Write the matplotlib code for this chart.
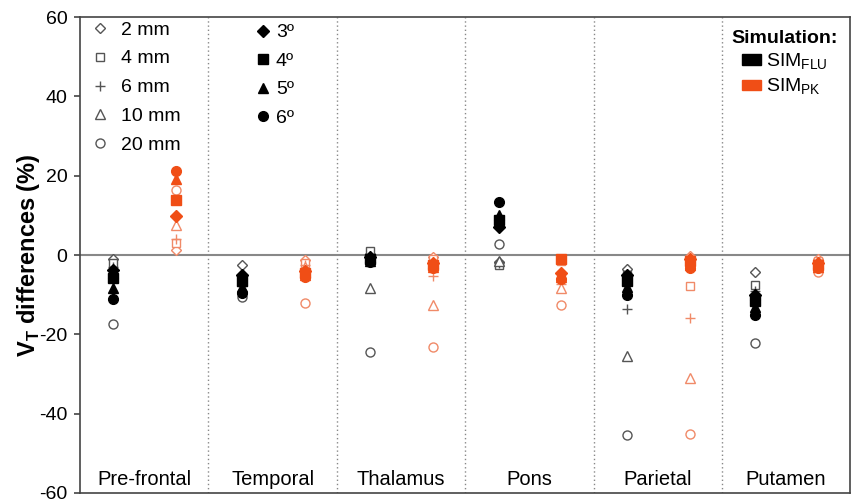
import matplotlib.pyplot as plt
from matplotlib.lines import Line2D
from matplotlib.patches import Patch

plt.rcParams.update({'font.family': 'Liberation Sans', 'font.size': 12,
                     'axes.unicode_minus': False,
                     'mathtext.fontset': 'custom',
                     'mathtext.rm': 'Liberation Sans',
                     'mathtext.bf': 'Liberation Sans:bold'})

regions = ['Pre-frontal', 'Temporal', 'Thalamus', 'Pons', 'Parietal', 'Putamen']

# V_T differences (%) per region, SIM_FLU
flu_2mm = [-1.0, -2.4, 0.2, -1.8, -3.6, -4.4]
flu_4mm = [-2.1, -6.0, 0.9, -2.4, -5.0, -7.6]
flu_6mm = [-3.0, -7.0, -0.5, -2.0, -13.6, -9.0]
flu_10mm = [-4.5, -6.5, -8.4, -1.5, -25.4, -10.0]
flu_20mm = [-17.5, -10.5, -24.4, 2.9, -45.5, -22.3]
flu_3deg = [-3.8, -5.0, -0.5, 7.0, -5.0, -10.0]
flu_4deg = [-5.8, -6.5, -1.0, 8.8, -6.5, -11.5]
flu_5deg = [-8.3, -8.0, -1.5, 10.0, -8.0, -13.0]
flu_6deg = [-11.0, -9.7, -1.8, 13.3, -10.0, -15.0]

# V_T differences (%) per region, SIM_PK
pk_2mm = [1.2, -1.3, -0.5, -1.0, -0.3, -1.0]
pk_4mm = [3.0, -2.0, -1.0, -1.5, -7.7, -1.5]
pk_6mm = [4.0, -2.5, -5.2, -7.2, -16.0, -2.0]
pk_10mm = [7.5, -3.0, -12.5, -8.4, -31.0, -2.5]
pk_20mm = [16.3, -12.0, -23.3, -12.5, -45.2, -4.2]
pk_3deg = [9.9, -4.0, -2.0, -4.5, -1.0, -2.0]
pk_4deg = [13.8, -4.5, -2.5, -1.0, -1.5, -2.5]
pk_5deg = [19.2, -5.0, -3.0, -5.5, -2.5, -3.0]
pk_6deg = [21.2, -5.5, -3.4, -6.0, -3.4, -3.4]

open_labels = ['2 mm', '4 mm', '6 mm', '10 mm', '20 mm']
filled_labels = ['3º', '4º', '5º', '6º']
open_markers = ['D', 's', '+', '^', 'o']
filled_markers = ['D', 's', '^', 'o']

flu_open = [flu_2mm, flu_4mm, flu_6mm, flu_10mm, flu_20mm]
flu_filled = [flu_3deg, flu_4deg, flu_5deg, flu_6deg]
pk_open = [pk_2mm, pk_4mm, pk_6mm, pk_10mm, pk_20mm]
pk_filled = [pk_3deg, pk_4deg, pk_5deg, pk_6deg]

flu_col = 'black'
flu_open_col = '#555555'
pk_col = '#f04e16'
pk_open_col = '#f08a68'

fig = plt.figure(figsize=(8.52, 5.01), dpi=100)
ax = fig.add_axes([0.094, 0.016, 0.904, 0.950])

x_flu = [i + 0.26 for i in range(len(regions))]
x_pk = [i + 0.75 for i in range(len(regions))]


def msize(m, filled=False):
    base = {'D': 5.2, 's': 6.2, '+': 7, '^': 6.5, 'o': 6.5}[m]
    return base + (0.5 if filled else 0)


def open_style(m, col):
    return dict(marker=m, ms=msize(m), mfc='white' if m != '+' else col, mec=col, mew=1.0)


for vals, m in zip(flu_open, open_markers):
    ax.plot(x_flu, vals, ls='none', zorder=3, **open_style(m, flu_open_col))
for vals, m in zip(pk_open, open_markers):
    ax.plot(x_pk, vals, ls='none', zorder=3, **open_style(m, pk_open_col))
for vals, m in zip(flu_filled, filled_markers):
    ax.plot(x_flu, vals, ls='none', marker=m, ms=msize(m, True), color=flu_col, zorder=4)
for vals, m in zip(pk_filled, filled_markers):
    ax.plot(x_pk, vals, ls='none', marker=m, ms=msize(m, True), color=pk_col, zorder=4)

# zero line and region dividers
ax.axhline(0, color='#888888', lw=1.5, zorder=1)
for i in range(1, len(regions)):
    ax.axvline(i, color='#888888', lw=1, ls=(0, (1, 2)), zorder=1)

for i, name in enumerate(regions):
    ax.text(i + 0.5, -56.6, name, ha='center', va='center', fontsize=14.5)

ax.set_xlim(0, len(regions))
ax.set_ylim(-60, 60)
ax.set_yticks(range(-60, 61, 20))
ax.set_xticks([])
ax.tick_params(axis='y', direction='out', length=4, width=1.2, color='#444444',
               labelsize=14, pad=5)
for s in ax.spines.values():
    s.set_color('#444444')
    s.set_linewidth(1.2)
ax.set_ylabel('V$_\\mathbf{T}$ differences (%)', fontsize=17, fontweight='bold', labelpad=-2)

# legends
h_open = [Line2D([], [], ls='none', **open_style(m, flu_open_col)) for m in open_markers]
leg1 = ax.legend(h_open, open_labels, loc='upper left', bbox_to_anchor=(0.011, 1.0),
                 frameon=False, fontsize=14, handlelength=0.8, handletextpad=0.65,
                 labelspacing=0.58, borderaxespad=0, borderpad=0.2)
ax.add_artist(leg1)

h_filled = [Line2D([], [], ls='none', marker=m, ms=msize(m, True), color=flu_col)
            for m in filled_markers]
leg2 = ax.legend(h_filled, filled_labels, loc='upper left', bbox_to_anchor=(0.219, 1.0),
                 frameon=False, fontsize=14, handlelength=0.8, handletextpad=0.25,
                 labelspacing=0.56, borderaxespad=0, borderpad=0.35)
ax.add_artist(leg2)

h_sim = [Patch(color=flu_col), Patch(color=pk_col)]
leg3 = ax.legend(h_sim, ['SIM$_{\\mathrm{FLU}}$', 'SIM$_{\\mathrm{PK}}$'], loc='upper right',
                 bbox_to_anchor=(1.0, 1.0), frameon=False, fontsize=14,
                 title='Simulation:', title_fontproperties={'weight': 'bold', 'size': 14},
                 handlelength=1.0, handleheight=0.45, handletextpad=0.25,
                 labelspacing=0.25, borderaxespad=0.25)

fig.savefig('out.png', dpi=100)
